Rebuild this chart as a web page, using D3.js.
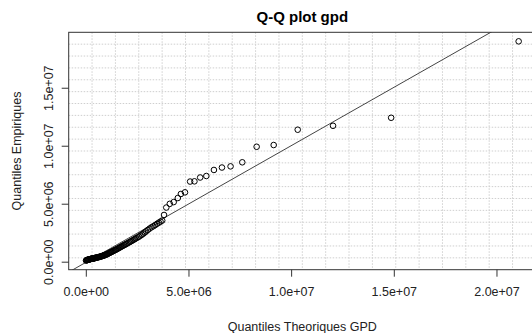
<!DOCTYPE html>
<html>
<head>
<meta charset="utf-8">
<script src="https://cdn.jsdelivr.net/npm/d3@7"></script>
<style>
  html, body { margin: 0; padding: 0; background: #ffffff; }
  svg { display: block; }
  text { font-family: "Liberation Sans", Arial, sans-serif; }
</style>
</head>
<body>
<svg id="chart" width="532" height="333"></svg>
<script>
// ---- data (values in millions) ----
const theoretical = [
  0.01,0.03,0.05,0.07,0.09,0.11,0.13,0.15,0.17,0.19,0.21,0.23,0.25,0.27,0.29,0.31,0.33,0.35,0.37,0.39,
  0.41,0.43,0.45,0.47,0.49,0.52,0.55,0.58,0.61,0.64,0.67,0.70,0.73,0.76,0.79,0.82,0.85,0.88,0.91,0.94,
  0.97,1.00,1.03,1.07,1.11,1.15,1.19,1.23,1.27,1.31,1.35,1.39,1.43,1.47,1.52,1.57,1.62,1.67,1.72,1.77,
  1.82,1.87,1.92,1.97,2.03,2.09,2.15,2.21,2.27,2.33,2.39,2.45,2.52,2.59,2.66,2.73,2.80,2.87,2.94,3.02,
  3.11,3.20,3.29,3.38,3.47,3.56,3.64,3.72,
  3.81,3.92,4.09,4.28,4.48,4.63,4.83,5.08,5.29,5.57,5.87,6.24,6.63,7.05,7.62,8.32,9.15,10.32,12.04,14.87,21.08
];
const empirical = [
  0.10,0.12,0.14,0.15,0.16,0.17,0.18,0.19,0.20,0.21,0.22,0.23,0.24,0.25,0.25,0.26,0.27,0.28,0.28,0.29,
  0.30,0.31,0.32,0.33,0.34,0.35,0.36,0.38,0.39,0.40,0.42,0.43,0.45,0.47,0.49,0.50,0.52,0.54,0.56,0.58,
  0.60,0.62,0.65,0.68,0.72,0.75,0.79,0.83,0.86,0.90,0.94,0.97,1.01,1.04,1.09,1.14,1.19,1.24,1.29,1.34,
  1.39,1.44,1.48,1.53,1.59,1.65,1.71,1.77,1.83,1.89,1.96,2.02,2.09,2.16,2.25,2.33,2.42,2.52,2.62,2.74,
  2.86,2.97,3.06,3.16,3.27,3.37,3.46,3.55,
  4.03,4.67,4.99,5.14,5.49,5.84,5.98,6.91,6.93,7.26,7.39,7.91,8.12,8.22,8.57,9.91,10.06,11.38,11.72,12.41,19.00
];
const xTickValues = [0, 5, 10, 15, 20];
const xTickLabels = ["0.0e+00", "5.0e+06", "1.0e+07", "1.5e+07", "2.0e+07"];
const yTickValues = [0, 5, 10, 15];
const yTickLabels = ["0.0e+00", "5.0e+06", "1.0e+07", "1.5e+07"];
const refLine = { intercept: -0.06, slope: 1.006 };
const titleText = "Q-Q plot gpd";
const xTitle = "Quantiles Theoriques GPD";
const yTitle = "Quantiles Empiriques";

// ---- layout ----
const plot = { left: 68.7, top: 32.3, right: 535.9, bottom: 269.7 };
const xDomain = [-0.833, 21.92];
const yDomain = [-0.69, 19.78];

const svg = d3.select("#chart");
const x = d3.scaleLinear().domain(xDomain).range([plot.left, plot.right]);
const y = d3.scaleLinear().domain(yDomain).range([plot.bottom, plot.top]);

svg.append("defs").append("clipPath").attr("id", "clip")
  .append("rect")
  .attr("x", plot.left).attr("y", plot.top)
  .attr("width", plot.right - plot.left).attr("height", plot.bottom - plot.top);

// grid (20 x 20 equal divisions)
const gx = d3.range(1, 20).map(k => xDomain[0] + k * (xDomain[1] - xDomain[0]) / 20);
const gy = d3.range(1, 20).map(k => yDomain[0] + k * (yDomain[1] - yDomain[0]) / 20);
const grid = svg.append("g").attr("clip-path", "url(#clip)")
  .attr("stroke", "#cfcfcf").attr("stroke-width", 1).attr("stroke-dasharray", "1.5,1.5");
grid.selectAll("line.gx").data(gx).join("line").attr("class", "gx")
  .attr("x1", d => x(d)).attr("x2", d => x(d)).attr("y1", plot.top).attr("y2", plot.bottom);
grid.selectAll("line.gy").data(gy).join("line").attr("class", "gy")
  .attr("y1", d => y(d)).attr("y2", d => y(d)).attr("x1", plot.left).attr("x2", plot.right);

// reference line
const lx = [xDomain[0] - 1, xDomain[1] + 1];
svg.append("g").attr("clip-path", "url(#clip)")
  .append("line")
  .attr("x1", x(lx[0])).attr("y1", y(refLine.intercept + refLine.slope * lx[0]))
  .attr("x2", x(lx[1])).attr("y2", y(refLine.intercept + refLine.slope * lx[1]))
  .attr("stroke", "#444").attr("stroke-width", 1);

// points
const pts = theoretical.map((t, i) => ({ t, e: empirical[i] }));
svg.append("g").selectAll("circle").data(pts).join("circle")
  .attr("cx", d => x(d.t)).attr("cy", d => y(d.e)).attr("r", 2.8)
  .attr("fill", "none").attr("stroke", "#000").attr("stroke-width", 1);

// box
svg.append("rect")
  .attr("x", plot.left).attr("y", plot.top)
  .attr("width", plot.right - plot.left).attr("height", plot.bottom - plot.top)
  .attr("fill", "none").attr("stroke", "#333").attr("stroke-width", 1);

// axes
const xAxis = d3.axisBottom(x).tickValues(xTickValues)
  .tickFormat((d, i) => xTickLabels[i]).tickSize(7).tickSizeOuter(0).tickPadding(10);
const gxa = svg.append("g").attr("transform", `translate(0,${plot.bottom})`).call(xAxis);
gxa.select(".domain").remove();
gxa.selectAll(".tick line").attr("stroke", "#333");
gxa.selectAll(".tick text").attr("font-size", 12.5).attr("fill", "#222")
  .attr("font-family", "Liberation Sans, Arial, sans-serif");

const yAxis = d3.axisLeft(y).tickValues(yTickValues)
  .tickFormat((d, i) => yTickLabels[i]).tickSize(7).tickSizeOuter(0);
const gya = svg.append("g").attr("transform", `translate(${plot.left},0)`).call(yAxis);
gya.select(".domain").remove();
gya.selectAll(".tick line").attr("stroke", "#333");
gya.selectAll(".tick text")
  .attr("x", null).attr("dy", null)
  .attr("transform", "translate(-16,0) rotate(-90)")
  .attr("text-anchor", "middle")
  .attr("font-size", 12.5).attr("fill", "#222")
  .attr("font-family", "Liberation Sans, Arial, sans-serif");

// titles
svg.append("text")
  .attr("x", (plot.left + plot.right) / 2).attr("y", 21.5)
  .attr("text-anchor", "middle").attr("font-weight", "bold").attr("font-size", 15)
  .attr("fill", "#000").text(titleText);
svg.append("text")
  .attr("x", (plot.left + plot.right) / 2).attr("y", 331)
  .attr("text-anchor", "middle").attr("font-size", 12.5).attr("fill", "#222").text(xTitle);
svg.append("text")
  .attr("transform", `translate(21,${(plot.top + plot.bottom) / 2}) rotate(-90)`)
  .attr("text-anchor", "middle").attr("font-size", 12.5).attr("fill", "#222").text(yTitle);
</script>
</body>
</html>
